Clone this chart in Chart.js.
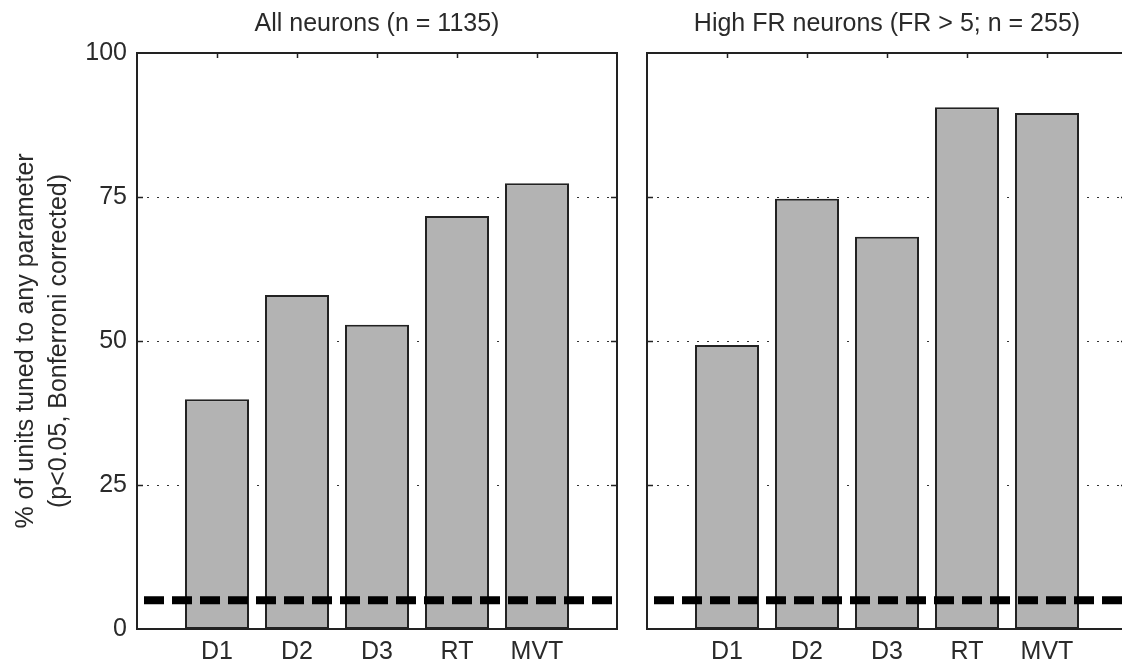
<!DOCTYPE html>
<html>
<head>
<meta charset="utf-8">
<script src="https://cdn.jsdelivr.net/npm/chart.js@4/dist/chart.umd.min.js"></script>
<style>
  html, body { margin: 0; padding: 0; background: #fff; overflow: hidden; width: 1122px; height: 669px; }
  #wrap { position: relative; width: 1122px; height: 669px; overflow: hidden; }
  canvas { position: absolute; top: 0; }
  #leftPanel { left: 0; }
  #rightPanel { left: 630px; }
</style>
</head>
<body>
<div id="wrap">
  <canvas id="leftPanel" width="630" height="669"></canvas>
  <canvas id="rightPanel" width="510" height="669"></canvas>
</div>
<script>
// Task epochs on the x axis
const categories = ['D1', 'D2', 'D3', 'RT', 'MVT'];
// Percent of tuned units per epoch
const allNeurons = [39.9, 58.0, 52.8, 71.7, 77.4];
const highFrNeurons = [49.3, 74.7, 68.1, 90.6, 89.6];
// Y axis ticks and chance level (5%)
const yTicks = [0, 25, 50, 75, 100];
const chanceLevel = 5;
const panelTitles = ['All neurons (n = 1135)', 'High FR neurons (FR > 5; n = 255)'];
const yAxisTitle = ['% of units tuned to any parameter', '(p<0.05, Bonferroni corrected)'];

const FONT = '"Liberation Sans", Arial, Helvetica, sans-serif';
const INK = '#2a2a2a';

// one empty slot on each side so the five bars sit one step in from the frame
const labels = ['', ...categories, ''];
const padded = arr => [null, ...arr, null];

const panelFrame = {
  id: 'panelFrame',
  beforeDatasetsDraw(chart) {
    const { ctx, chartArea: a, scales: { y } } = chart;
    ctx.save();
    ctx.strokeStyle = '#333';
    ctx.lineWidth = 1;
    ctx.setLineDash([2, 8]);
    for (const v of yTicks) {
      if (v === yTicks[0] || v === yTicks[yTicks.length - 1]) continue;
      const py = Math.round(y.getPixelForValue(v)) + 0.5;
      ctx.beginPath();
      ctx.moveTo(a.left, py);
      ctx.lineTo(a.right, py);
      ctx.stroke();
    }
    ctx.restore();
  },
  afterDatasetsDraw(chart) {
    const { ctx, chartArea: a, scales: { x, y } } = chart;
    ctx.save();
    ctx.strokeStyle = '#222';
    ctx.lineWidth = 2;
    ctx.strokeRect(a.left, a.top, a.right - a.left, a.bottom - a.top);
    ctx.lineWidth = 1.5;
    ctx.beginPath();
    // inward ticks along the top edge
    for (let i = 1; i <= categories.length; i++) {
      const px = Math.round(x.getPixelForValue(i)) + 0.5;
      ctx.moveTo(px, a.top);
      ctx.lineTo(px, a.top + 5);
    }
    // inward ticks on both sides
    for (const v of yTicks) {
      if (v === yTicks[0] || v === yTicks[yTicks.length - 1]) continue;
      const py = Math.round(y.getPixelForValue(v)) + 0.5;
      ctx.moveTo(a.left, py); ctx.lineTo(a.left + 6, py);
      ctx.moveTo(a.right, py); ctx.lineTo(a.right - 6, py);
    }
    ctx.stroke();
    ctx.restore();
  },
  afterDraw(chart) {
    const { ctx, chartArea: a } = chart;
    const text = chart.options.plugins.panelFrame.title;
    ctx.save();
    ctx.fillStyle = INK;
    ctx.font = '25px ' + FONT;
    ctx.textAlign = 'center';
    ctx.textBaseline = 'alphabetic';
    ctx.fillText(text, (a.left + a.right) / 2, 31);
    ctx.restore();
  }
};

function makePanel(canvasId, values, title, showY, padLeft) {
  return new Chart(document.getElementById(canvasId), {
    type: 'bar',
    data: {
      labels,
      datasets: [
        {
          type: 'line',
          data: labels.map(() => chanceLevel),
          borderColor: '#000',
          borderWidth: 8,
          borderDash: [20, 8],
          borderDashOffset: 21,
          borderCapStyle: 'butt',
          pointRadius: 0,
          fill: false,
          order: 0
        },
        {
          type: 'bar',
          data: padded(values),
          backgroundColor: '#b3b3b3',
          borderColor: '#222',
          borderWidth: 2,
          borderSkipped: false,
          barPercentage: 0.8,
          categoryPercentage: 1,
          order: 1
        }
      ]
    },
    options: {
      responsive: false,
      animation: false,
      devicePixelRatio: 1,
      layout: { padding: { top: 53, left: padLeft, right: 13, bottom: 0 } },
      plugins: {
        legend: { display: false },
        tooltip: { enabled: false },
        panelFrame: { title }
      },
      scales: {
        x: {
          offset: false,
          grid: { display: false, drawTicks: false },
          border: { display: false },
          ticks: {
            autoSkip: false,
            maxRotation: 0,
            padding: 8,
            color: INK,
            font: { family: FONT, size: 25 }
          },
          afterFit(scale) { scale.height = 40; }
        },
        y: {
          display: showY,
          min: 0,
          max: 100,
          grid: { display: false, drawTicks: false },
          border: { display: false },
          afterBuildTicks(scale) { scale.ticks = yTicks.map(v => ({ value: v })); },
          ticks: {
            padding: 10,
            color: INK,
            font: { family: FONT, size: 25 }
          },
          title: {
            display: showY,
            text: yAxisTitle,
            color: INK,
            font: { family: FONT, size: 25, lineHeight: 1.3 },
            padding: { top: 10, bottom: 0 }
          },
          afterFit(scale) { if (showY) scale.width = 137; }
        }
      }
    },
    plugins: [panelFrame]
  });
}

makePanel('leftPanel', allNeurons, panelTitles[0], true, 0);
makePanel('rightPanel', highFrNeurons, panelTitles[1], false, 17);
</script>
</body>
</html>
